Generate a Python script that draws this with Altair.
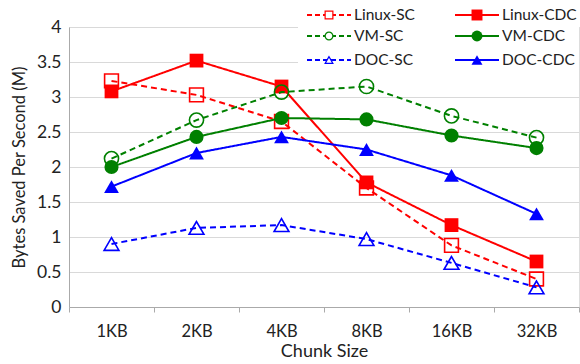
import altair as alt
import pandas as pd

chunks = ["1KB", "2KB", "4KB", "8KB", "16KB", "32KB"]
series = ["Linux-SC", "Linux-CDC", "VM-SC", "VM-CDC", "DOC-SC", "DOC-CDC"]
linux_sc = [3.23, 3.03, 2.65, 1.70, 0.88, 0.40]
linux_cdc = [3.08, 3.52, 3.15, 1.78, 1.17, 0.65]
vm_sc = [2.12, 2.67, 3.07, 3.15, 2.73, 2.42]
vm_cdc = [2.00, 2.43, 2.70, 2.68, 2.45, 2.27]
doc_sc = [0.90, 1.13, 1.17, 0.97, 0.63, 0.28]
doc_cdc = [1.72, 2.20, 2.43, 2.25, 1.88, 1.33]

values = [linux_sc, linux_cdc, vm_sc, vm_cdc, doc_sc, doc_cdc]
colors = ["#ff0000", "#ff0000", "#008000", "#008000", "#0000ff", "#0000ff"]
shapes = ["square", "square", "circle", "circle", "triangle-up", "triangle-up"]
dashed = [True, False, True, False, True, False]

FONT = "Lato"
W, H = 510, 280

layers = []
for name, vals, col, shp, dsh in zip(series, values, colors, shapes, dashed):
    df = pd.DataFrame({"chunk": chunks, "value": vals, "series": name})
    x = alt.X("chunk:N", sort=chunks,
              scale=alt.Scale(domain=chunks, paddingInner=0, paddingOuter=0),
              axis=alt.Axis(title="Chunk Size", labelAngle=0, tickBand="extent",
                            domainColor="#aaaaaa", tickColor="#aaaaaa", tickSize=5,
                            labelFont=FONT, labelFontSize=16.5, labelColor="#222222",
                            labelPadding=11, titleFont=FONT, titleFontSize=18,
                            titleFontWeight="normal", titleColor="#222222", titlePadding=3,
                            grid=False))
    y = alt.Y("value:Q", scale=alt.Scale(domain=[0, 4]),
              axis=alt.Axis(title="Bytes Saved Per Second (M)", values=[0, 0.5, 1, 1.5, 2, 2.5, 3, 3.5, 4],
                            format="~g", ticks=False, domainColor="#aaaaaa",
                            gridColor="#d9d9d9", labelFont=FONT, labelFontSize=17.5,
                            labelColor="#222222", labelPadding=8,
                            titleFont=FONT, titleFontSize=16.5, titleFontWeight="normal",
                            titleColor="#222222", titlePadding=9))
    line = alt.Chart(df).mark_line(color=col, strokeWidth=2,
                                   strokeDash=[6, 4] if dsh else [1, 0]).encode(x=x, y=y)
    sz = {"square": 190, "circle": 200, "triangle-up": 220}[shp]
    pt = alt.Chart(df).mark_point(shape=shp, size=sz,
                                  color=col, filled=not dsh, fill=("white" if dsh else col),
                                  fillOpacity=1 if not dsh else 0.0,
                                  strokeWidth=1.6, opacity=1).encode(x=x, y=y)
    layers += [line, pt]

# legend
leg_x0 = [307, 455]
leg_rows = [-12, 9, 33]
leg_bg = alt.Chart(pd.DataFrame({"a": [0]})).mark_rect(color="white").encode(
    x=alt.value(229), x2=alt.value(W), y=alt.value(-24), y2=alt.value(43))
layers.append(leg_bg)
for i, (name, col, shp, dsh) in enumerate(zip(series, colors, shapes, dashed)):
    c = i % 2
    r = i // 2
    lx = leg_x0[c] - 69
    ly = leg_rows[r]
    d = pd.DataFrame({"name": [name]})
    layers.append(alt.Chart(d).mark_rule(color=col, strokeWidth=2,
                                         strokeDash=[5, 3] if dsh else [1, 0]).encode(
        x=alt.value(lx), x2=alt.value(lx + 44), y=alt.value(ly)))
    layers.append(alt.Chart(d).mark_point(shape=shp, size=(60 if dsh else 120), color=col,
                                          filled=not dsh, fill=("white" if dsh else col),
                                          fillOpacity=1, strokeWidth=1.2, opacity=1).encode(
        x=alt.value(lx + 22), y=alt.value(ly)))
    layers.append(alt.Chart(d).mark_text(align="left", baseline="middle", font=FONT,
                                         fontSize=15.5, color="#222222").encode(
        x=alt.value(lx + 47), y=alt.value(ly), text="name:N"))

chart = alt.layer(*layers).properties(
    width=W, height=H,
    autosize=alt.AutoSizeParams(type="none"),
    padding={"left": 69, "top": 27, "right": 1, "bottom": 57},
).configure_view(stroke=None).configure(background="white")

chart.save("out.html", embed_options={"renderer": "svg", "actions": False})
